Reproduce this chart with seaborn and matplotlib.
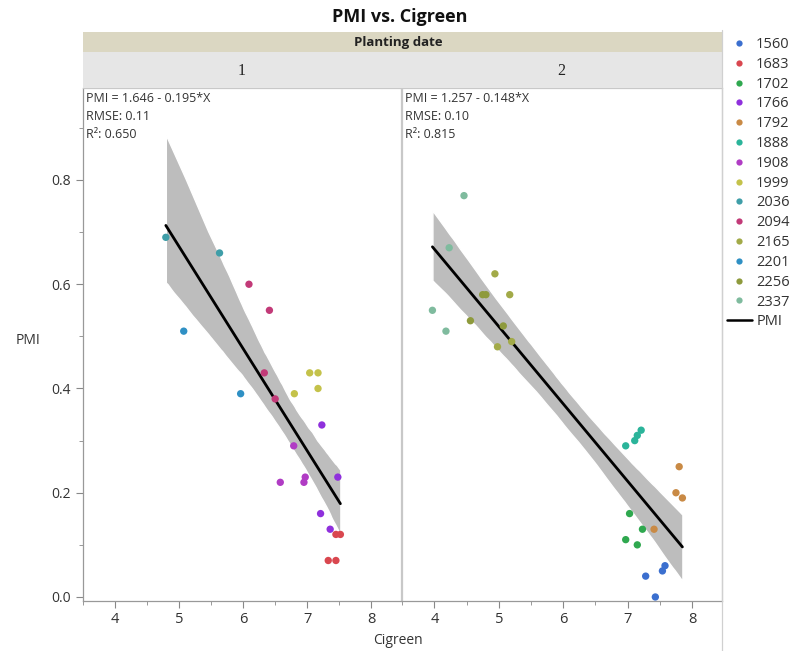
import numpy as np
import pandas as pd
import seaborn as sns
import matplotlib.pyplot as plt
from matplotlib.patches import Rectangle
from matplotlib.lines import Line2D
from matplotlib.ticker import MultipleLocator

# genotype colours (legend order)
genotypes = ["1560", "1683", "1702", "1766", "1792", "1888", "1908",
             "1999", "2036", "2094", "2165", "2201", "2256", "2337"]
colors = ["#3b6fcf", "#d9474f", "#2fa84f", "#8f30dc", "#c98a45", "#2bb49a",
          "#b03cc4", "#c4c24a", "#3f9ea8", "#c23a78", "#a2aa48", "#2f90c4",
          "#8e9a3c", "#7fbb9e"]

# planting date 1
d1_geno = (["1683"] * 4 + ["1766"] * 4 + ["1908"] * 4 + ["1999"] * 4
           + ["2036"] * 2 + ["2094"] * 4 + ["2201"] * 2)
d1_cig = [7.45, 7.52, 7.33, 7.45,
          7.23, 7.48, 7.21, 7.36,
          6.79, 6.58, 6.95, 6.97,
          7.04, 7.17, 6.80, 7.17,
          4.79, 5.63,
          6.09, 6.41, 6.33, 6.50,
          5.07, 5.96]
d1_pmi = [0.12, 0.12, 0.07, 0.07,
          0.33, 0.23, 0.16, 0.13,
          0.29, 0.22, 0.22, 0.23,
          0.43, 0.43, 0.39, 0.40,
          0.69, 0.66,
          0.60, 0.55, 0.43, 0.38,
          0.51, 0.39]

# planting date 2
d2_geno = (["1560"] * 4 + ["1702"] * 4 + ["1792"] * 4 + ["1888"] * 4
           + ["2165"] * 4 + ["2256"] * 4 + ["2337"] * 4)
d2_cig = [7.28, 7.54, 7.58, 7.43,
          7.03, 7.23, 6.97, 7.15,
          7.80, 7.75, 7.85, 7.41,
          6.97, 7.11, 7.15, 7.21,
          4.94, 5.17, 4.98, 5.20,
          4.75, 4.80, 4.56, 5.07,
          4.46, 4.23, 3.97, 4.18]
d2_pmi = [0.04, 0.05, 0.06, 0.00,
          0.16, 0.13, 0.11, 0.10,
          0.25, 0.20, 0.19, 0.13,
          0.29, 0.30, 0.31, 0.32,
          0.62, 0.58, 0.48, 0.49,
          0.58, 0.58, 0.53, 0.52,
          0.77, 0.67, 0.55, 0.51]

fit_text = [["PMI = 1.646 - 0.195*X", "RMSE: 0.11", "R²: 0.650"],
            ["PMI = 1.257 - 0.148*X", "RMSE: 0.10", "R²: 0.815"]]

df = pd.concat([
    pd.DataFrame({"date": "1", "genotype": d1_geno, "Cigreen": d1_cig, "PMI": d1_pmi}),
    pd.DataFrame({"date": "2", "genotype": d2_geno, "Cigreen": d2_cig, "PMI": d2_pmi}),
])
palette = dict(zip(genotypes, colors))

sns.set_style("white")
plt.rcParams["font.family"] = ["Open Sans", "DejaVu Sans"]

W, H = 792, 651
fig = plt.figure(figsize=(W / 100, H / 100), dpi=100)


def fx(px):
    return px / W


def fy(py):
    return 1 - py / H


top, bottom = 88, 601
panels = [(82.7, 400.5), (401.5, 721.7)]
axes = []
for i, (date, sub) in enumerate(df.groupby("date")):
    x0, x1 = panels[i]
    ax = fig.add_axes([fx(x0), fy(bottom), fx(x1 - x0), fy(top) - fy(bottom)])
    axes.append(ax)
    sns.regplot(data=sub, x="Cigreen", y="PMI", scatter=False, ci=95, seed=0,
                color="black", line_kws={"lw": 2, "zorder": 3}, ax=ax)
    for coll in ax.collections:
        coll.set_facecolor("#bdbdbd")
        coll.set_alpha(1)
        coll.set_zorder(1)
    sns.scatterplot(data=sub, x="Cigreen", y="PMI", hue="genotype",
                    palette=palette, s=28, linewidth=0, legend=False,
                    zorder=4, ax=ax)
    ax.set_xlim(3.49, 8.46)
    ax.set_ylim(-0.0077, 0.9765)
    ax.set_xlabel("")
    ax.set_ylabel("")
    ax.xaxis.set_major_locator(MultipleLocator(1))
    ax.xaxis.set_minor_locator(MultipleLocator(0.5))
    ax.yaxis.set_major_locator(MultipleLocator(0.2))
    ax.yaxis.set_minor_locator(MultipleLocator(0.1))
    ax.tick_params(axis="x", which="major", length=5, color="#888888",
                   labelsize=10.5, labelcolor="#333333", pad=3)
    ax.tick_params(axis="x", which="minor", length=3, color="#888888")
    ax.tick_params(axis="y", which="major", length=5, color="#888888",
                   labelsize=10, labelcolor="#333333")
    ax.tick_params(axis="y", which="minor", length=3, color="#888888")
    ax.tick_params(bottom=True, left=(i == 0), which="both")
    if i > 0:
        ax.set_yticklabels([])
        ax.tick_params(axis="y", which="both", length=0)
    else:
        ax.set_yticklabels([f"{v:.1f}" for v in ax.get_yticks()])
    for side, sp in ax.spines.items():
        sp.set_color("#c8c8c8")
        sp.set_linewidth(0.9)
    ax.spines["bottom"].set_color("#999999")
    if i == 0:
        ax.spines["left"].set_color("#999999")
    for k, line in enumerate(fit_text[i]):
        ax.text(0.01, 0.992 - k * 0.035, line, transform=ax.transAxes,
                ha="left", va="top", fontsize=9, color="#333333")

# header strips
fig.patches.append(Rectangle((fx(82.7), fy(52)), fx(721.7 - 82.7), fy(32) - fy(52),
                             transform=fig.transFigure, facecolor="#dbd7c2",
                             edgecolor="none"))
fig.patches.append(Rectangle((fx(82.7), fy(88)), fx(721.7 - 82.7), fy(52) - fy(88),
                             transform=fig.transFigure, facecolor="#e6e6e6",
                             edgecolor="none"))
fig.text(fx(398), fy(42.5), "Planting date", ha="center", va="center",
         fontsize=9.5, fontweight="bold", color="#222222")
for i, (x0, x1) in enumerate(panels):
    fig.text(fx((x0 + x1) / 2), fy(71), str(i + 1), ha="center", va="center",
             fontsize=11.5, family="Liberation Serif", color="#222222")

fig.text(fx(400), fy(17), "PMI vs. Cigreen", ha="center", va="center",
         fontsize=13, fontweight="bold", color="#111111")
fig.text(fx(28), fy(341), "PMI", ha="center", va="center", fontsize=10, color="#333333")
fig.text(fx(398), fy(640), "Cigreen", ha="center", va="center", fontsize=10,
         color="#333333")

# legend
handles = [Line2D([], [], ls="none", marker="o", ms=4.5, mec="none", mfc=c)
           for c in colors]
handles.append(Line2D([], [], color="black", lw=1.8))
fig.legend(handles, genotypes + ["PMI"], loc="upper left",
           bbox_to_anchor=(fx(727), fy(37)), frameon=False, fontsize=10.5,
           labelspacing=0.33, handlelength=1.7, handletextpad=0.3,
           borderaxespad=0, borderpad=0, labelcolor="#333333")
fig.add_artist(Line2D([fx(722), fx(722)], [fy(30), fy(651)], color="#d0d0d0",
                      lw=0.9, transform=fig.transFigure))

fig.savefig("out.png", dpi=100)
